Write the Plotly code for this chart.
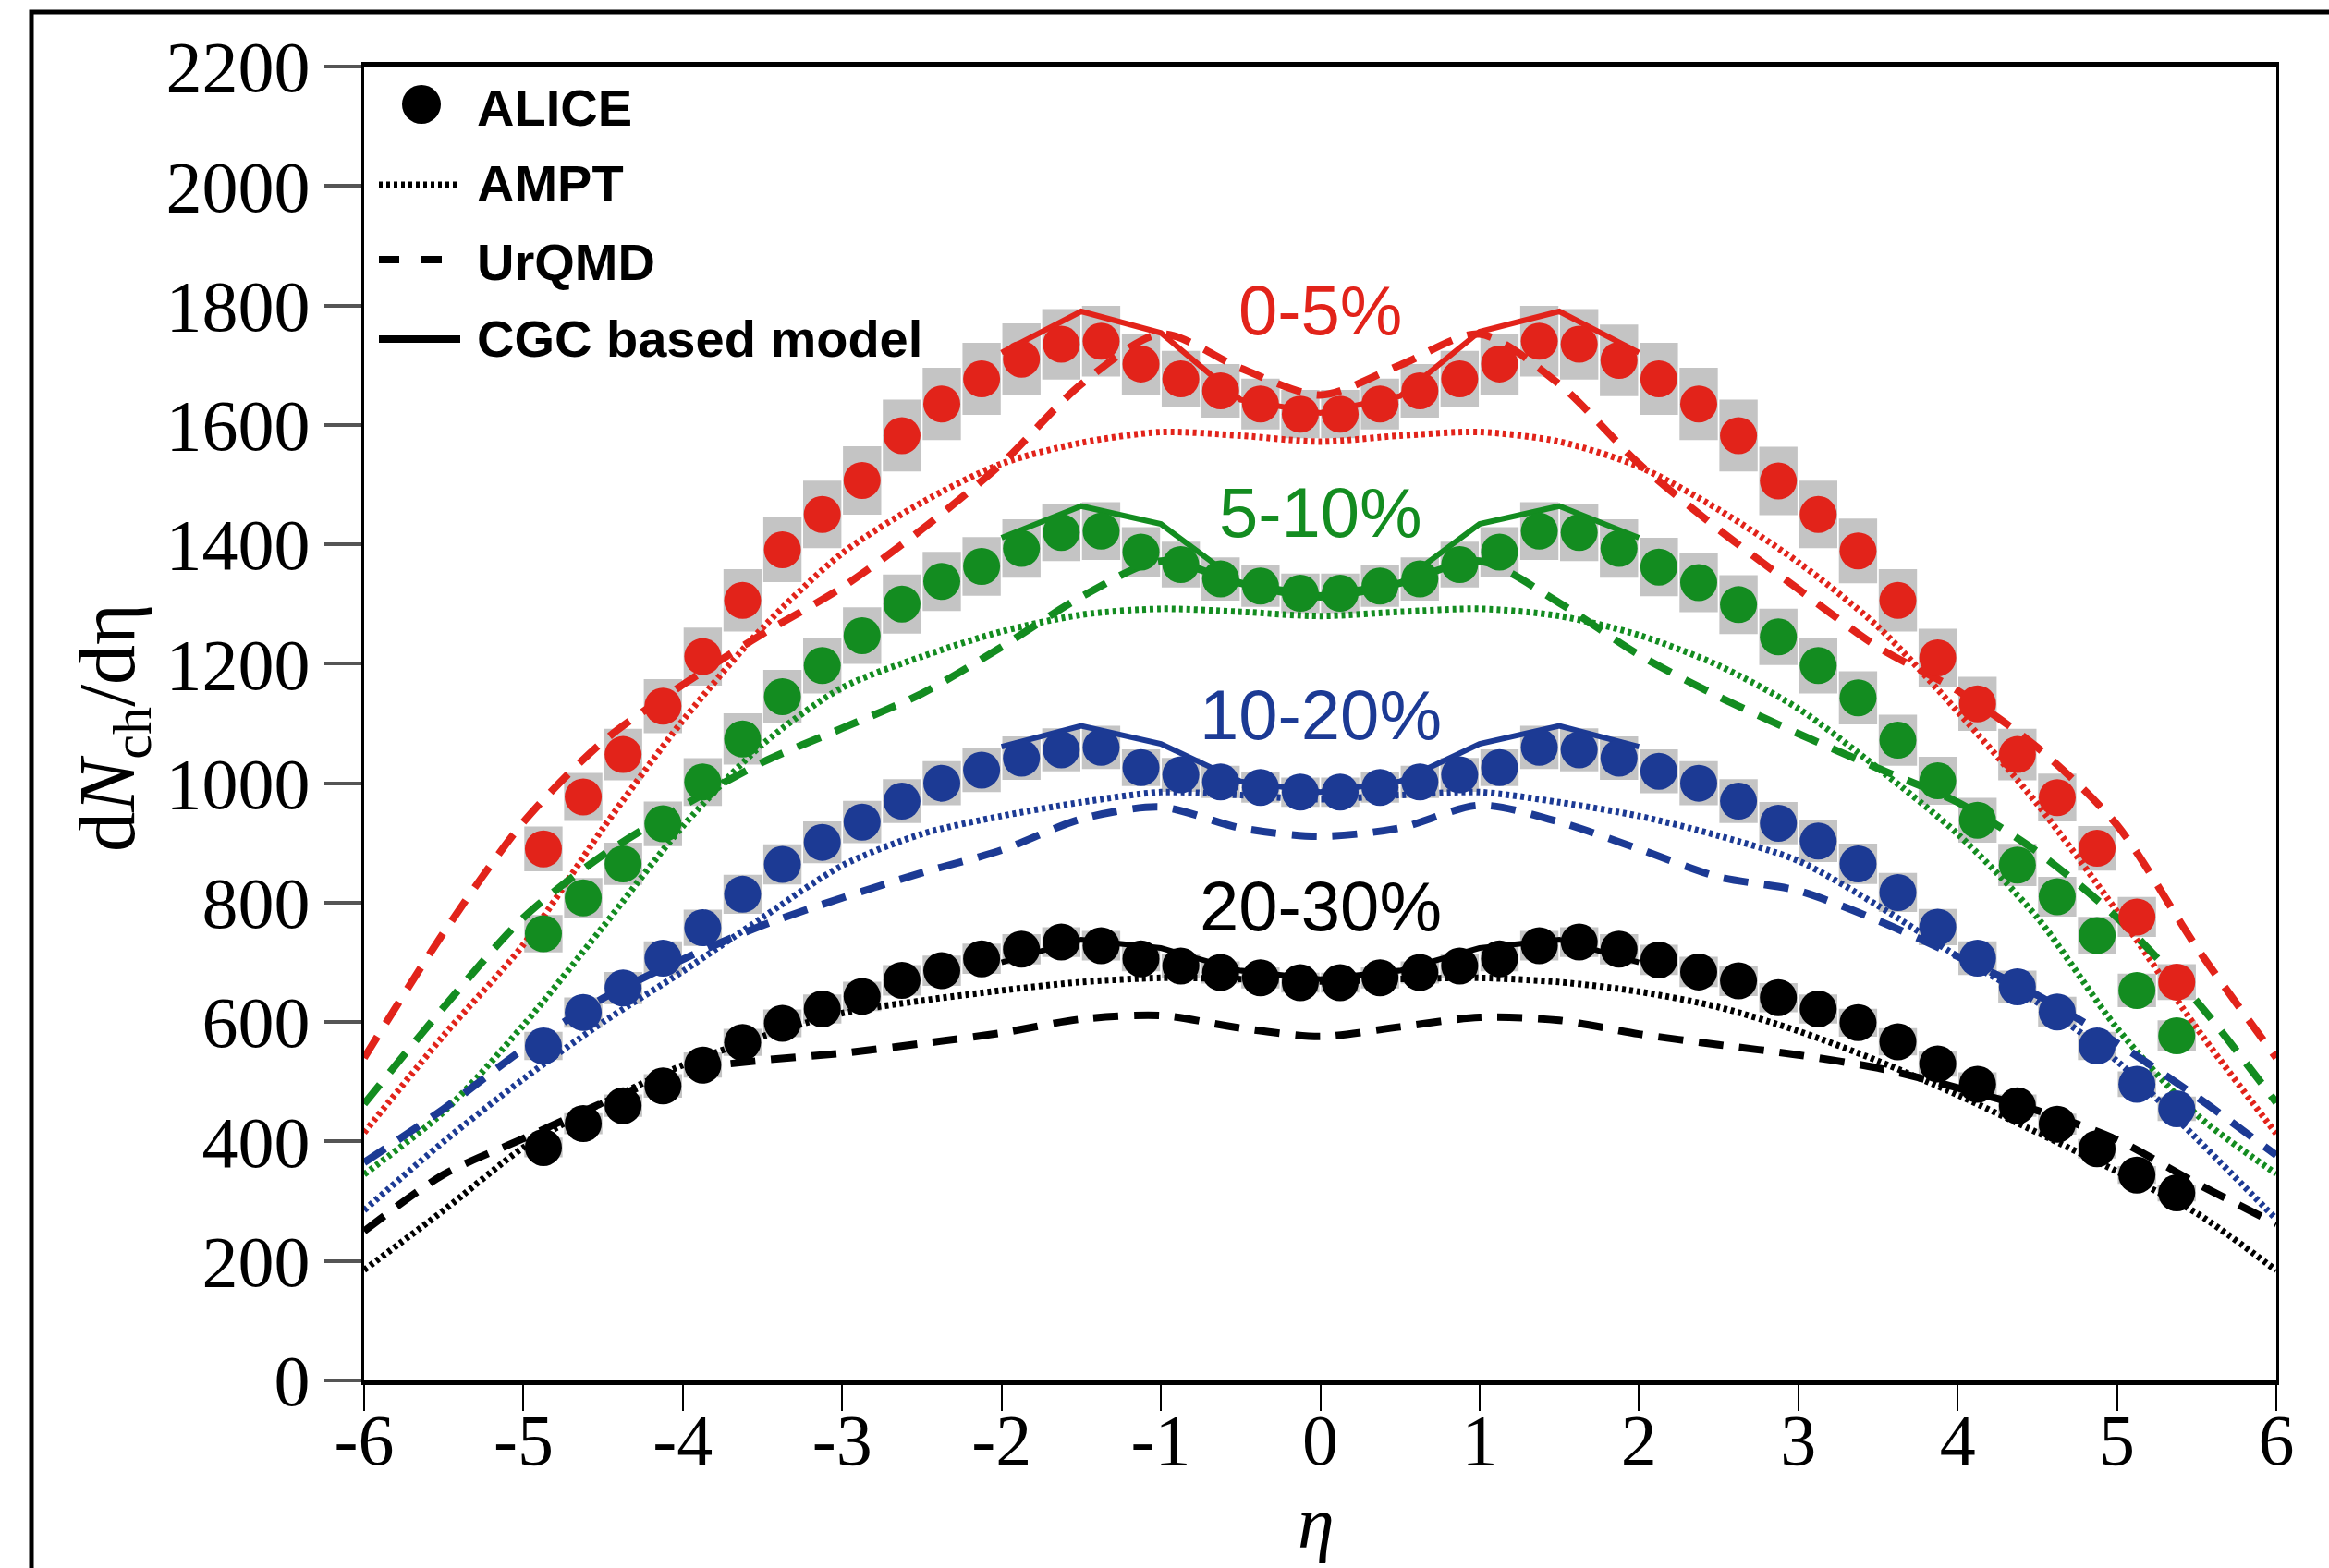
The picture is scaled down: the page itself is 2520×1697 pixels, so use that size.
import plotly.graph_objects as go

# ---------------- data ----------------
eta_alice = [-4.875, -4.625, -4.375, -4.125, -3.875, -3.625, -3.375, -3.125, -2.875, -2.625,
             -2.375, -2.125, -1.875, -1.625, -1.375, -1.125, -0.875, -0.625, -0.375, -0.125,
             0.125, 0.375, 0.625, 0.875, 1.125, 1.375, 1.625, 1.875, 2.125, 2.375,
             2.625, 2.875, 3.125, 3.375, 3.625, 3.875, 4.125, 4.375, 4.625, 4.875, 5.125, 5.375]

alice_0_5 = [890, 977, 1048, 1129, 1212, 1306, 1391, 1450, 1507, 1582, 1635, 1677, 1710, 1735, 1740, 1702, 1677, 1657, 1635, 1618,
             1618, 1635, 1657, 1677, 1702, 1740, 1735, 1708, 1677, 1635, 1582, 1506, 1450, 1389, 1306, 1210, 1133, 1048, 976, 891, 776, 667]
alice_5_10 = [748, 808, 865, 932, 1002, 1074, 1145, 1197, 1247, 1300, 1338, 1363, 1393, 1420, 1422, 1387, 1366, 1342, 1330, 1318,
              1318, 1330, 1342, 1366, 1387, 1422, 1420, 1393, 1362, 1336, 1299, 1245, 1197, 1143, 1072, 1004, 938, 863, 810, 745, 653, 577]
alice_10_20 = [560, 616, 657, 707, 758, 814, 864, 901, 935, 970, 1000, 1022, 1042, 1056, 1060, 1026, 1014, 1002, 993, 985,
               985, 993, 1002, 1014, 1026, 1060, 1056, 1042, 1020, 1000, 970, 933, 903, 865, 817, 759, 707, 659, 617, 560, 496, 455]
alice_20_30 = [390, 430, 460, 493, 528, 566, 598, 622, 643, 670, 686, 706, 722, 734, 728, 706, 694, 683, 674, 666,
               666, 674, 683, 694, 706, 728, 734, 722, 704, 684, 669, 641, 622, 599, 567, 530, 496, 460, 429, 388, 344, 314]

# relative systematic uncertainty (grey boxes)
sys_rel = [0.042, 0.041, 0.041, 0.040, 0.040, 0.040, 0.039, 0.039, 0.038, 0.038,
           0.037, 0.036, 0.035, 0.034, 0.034, 0.030, 0.028, 0.027, 0.026, 0.025,
           0.025, 0.026, 0.027, 0.028, 0.030, 0.034, 0.034, 0.035, 0.036, 0.037,
           0.038, 0.038, 0.039, 0.039, 0.040, 0.040, 0.040, 0.041, 0.041, 0.042, 0.043, 0.045]

eta_model = [-6, -5.5, -5, -4.5, -4, -3.5, -3, -2.5, -2, -1.5, -1, -0.5, 0,
             0.5, 1, 1.5, 2, 2.5, 3, 3.5, 4, 4.5, 5, 5.5, 6]

ampt_0_5 = [415, 578, 730, 925, 1105, 1260, 1385, 1470, 1535, 1570, 1588, 1582, 1572,
            1582, 1588, 1572, 1530, 1458, 1370, 1262, 1120, 965, 785, 590, 413]
ampt_5_10 = [345, 450, 595, 760, 928, 1065, 1160, 1212, 1254, 1282, 1292, 1287, 1280,
             1287, 1292, 1280, 1248, 1197, 1125, 1025, 915, 775, 590, 445, 346]
ampt_10_20 = [285, 400, 505, 600, 685, 775, 862, 915, 945, 968, 985, 980, 973,
              980, 985, 968, 945, 912, 870, 795, 710, 633, 535, 405, 270]
ampt_20_30 = [185, 285, 390, 465, 528, 576, 615, 636, 653, 667, 674, 672, 668,
              672, 674, 667, 651, 625, 585, 535, 478, 415, 350, 280, 184]

urqmd_0_5 = [540, 750, 935, 1070, 1165, 1250, 1328, 1425, 1535, 1668, 1752, 1695, 1650,
             1700, 1752, 1668, 1535, 1425, 1325, 1228, 1155, 1060, 930, 725, 540]
urqmd_5_10 = [463, 625, 775, 880, 962, 1035, 1092, 1150, 1228, 1312, 1372, 1335, 1312,
              1335, 1372, 1302, 1215, 1145, 1083, 1025, 968, 885, 775, 635, 465]
urqmd_10_20 = [365, 455, 555, 640, 705, 762, 808, 850, 888, 940, 960, 925, 911,
               925, 963, 935, 890, 843, 820, 770, 710, 645, 565, 475, 377]
urqmd_20_30 = [250, 345, 405, 465, 518, 536, 548, 564, 582, 605, 611, 590, 576,
               592, 608, 603, 580, 562, 545, 523, 490, 452, 403, 330, 262]

eta_cgc = [-2, -1.5, -1, -0.5, 0, 0.5, 1, 1.5, 2]
cgc_0_5 = [1721, 1790, 1754, 1642, 1620, 1648, 1756, 1790, 1721]
cgc_5_10 = [1411, 1464, 1434, 1335, 1315, 1335, 1434, 1464, 1411]
cgc_10_20 = [1061, 1096, 1066, 1003, 985, 1003, 1066, 1096, 1061]
cgc_20_30 = [700, 738, 724, 686, 672, 686, 724, 738, 700]

y_ticks = [0, 200, 400, 600, 800, 1000, 1200, 1400, 1600, 1800, 2000, 2200]
x_ticks = [-6, -5, -4, -3, -2, -1, 0, 1, 2, 3, 4, 5, 6]
x_tick_text = ["-6", "-5", "-4", "-3", "-2", "-1", "0", "1", "2", "3", "4", "5", "6"]

centralities = ["0-5%", "5-10%", "10-20%", "20-30%"]
label_pos = [1793, 1454, 1114, 795]

# ---------------- styling ----------------
RED = "#E2231A"
GREEN = "#138C20"
BLUE = "#1C3A94"
BLACK = "#000000"
GREY = "#C4C4C4"
colors = [RED, GREEN, BLUE, BLACK]

W, H = 2520, 1697
L, R, T, B = 394, 57, 72, 203
PW, PH = W - L - R, H - T - B


def px(x):
    return (x - L) / PW


def py(y):
    return (H - B - y) / PH


alice = [alice_0_5, alice_5_10, alice_10_20, alice_20_30]
ampt = [ampt_0_5, ampt_5_10, ampt_10_20, ampt_20_30]
urqmd = [urqmd_0_5, urqmd_5_10, urqmd_10_20, urqmd_20_30]
cgc = [cgc_0_5, cgc_5_10, cgc_10_20, cgc_20_30]

fig = go.Figure()

# grey systematic boxes
for vals in alice:
    err = [v * r for v, r in zip(vals, sys_rel)]
    fig.add_trace(go.Bar(
        x=eta_alice, y=[2 * e for e in err], base=[v - e for v, e in zip(vals, err)],
        width=0.24, marker=dict(color=GREY, line=dict(width=0)),
        showlegend=False, hoverinfo="skip"))

# model curves
for c, a, u, g in zip(colors, ampt, urqmd, cgc):
    fig.add_trace(go.Scatter(x=eta_model, y=a, mode="lines",
                             line=dict(color=c, width=7, dash="4px,4px", shape="spline", smoothing=0.8),
                             showlegend=False, hoverinfo="skip"))
    fig.add_trace(go.Scatter(x=eta_model, y=u, mode="lines",
                             line=dict(color=c, width=8, dash="27px,17px", shape="spline", smoothing=0.8),
                             showlegend=False, hoverinfo="skip"))
    fig.add_trace(go.Scatter(x=eta_cgc, y=g, mode="lines",
                             line=dict(color=c, width=6),
                             showlegend=False, hoverinfo="skip"))

# ALICE points
for c, vals in zip(colors, alice):
    fig.add_trace(go.Scatter(x=eta_alice, y=vals, mode="markers",
                             marker=dict(color=c, size=40, line=dict(width=0)),
                             showlegend=False, hoverinfo="skip"))

annotations = []
# centrality labels
for txt, yv, c in zip(centralities, label_pos, colors):
    annotations.append(dict(x=0, y=yv, xref="x", yref="y", text=txt, showarrow=False,
                            font=dict(family="Liberation Sans, Arial", size=76, color=c),
                            xanchor="center", yanchor="middle"))

# legend text
leg_font = dict(family="Liberation Sans, Arial", size=56, color="black")
for txt, yy in [("<b>ALICE</b>", 116), ("<b>AMPT</b>", 199), ("<b>UrQMD</b>", 283),
                ("<b>CGC based model</b>", 367)]:
    annotations.append(dict(x=px(514), y=py(yy), xref="paper", yref="paper", text=txt,
                            showarrow=False, font=leg_font, xanchor="left", yanchor="middle"))

# axis titles
annotations.append(dict(x=px(122), y=py(788), xref="paper", yref="paper",
                        text="d<i>N</i><sub>ch</sub>/dη", textangle=-90, showarrow=False,
                        font=dict(family="Liberation Serif, Times New Roman", size=86, color="black"),
                        xanchor="center", yanchor="middle"))
annotations.append(dict(x=px(1424), y=py(1648), xref="paper", yref="paper",
                        text="<i>η</i>", showarrow=False,
                        font=dict(family="Liberation Serif, Times New Roman", size=80, color="black"),
                        xanchor="center", yanchor="middle"))

shapes = []
# outer frame
shapes.append(dict(type="rect", xref="paper", yref="paper",
                   x0=px(34), x1=px(2560), y0=py(1760), y1=py(13),
                   line=dict(color="black", width=5), fillcolor="rgba(0,0,0,0)", layer="above"))
# legend symbols
shapes.append(dict(type="circle", xref="paper", yref="paper",
                   x0=px(435), x1=px(477), y0=py(134), y1=py(92),
                   fillcolor="black", line=dict(width=0)))
shapes.append(dict(type="line", xref="paper", yref="paper", x0=px(410), x1=px(498), y0=py(200), y1=py(200),
                   line=dict(color="black", width=7, dash="4px,4px")))
shapes.append(dict(type="line", xref="paper", yref="paper", x0=px(410), x1=px(478), y0=py(281), y1=py(281),
                   line=dict(color="black", width=8, dash="22px,24px")))
shapes.append(dict(type="line", xref="paper", yref="paper", x0=px(410), x1=px(498), y0=py(367), y1=py(367),
                   line=dict(color="black", width=8)))

tick_font = dict(family="Liberation Serif, Times New Roman", size=78, color="black")

fig.update_layout(
    template="none",
    width=W, height=H,
    margin=dict(l=L, r=R, t=T, b=B, autoexpand=False),
    paper_bgcolor="white", plot_bgcolor="white",
    barmode="overlay",
    showlegend=False,
    annotations=annotations,
    shapes=shapes,
    xaxis=dict(range=[-6, 6], tickvals=x_ticks, ticktext=x_tick_text, ticks="outside",
               ticklen=28, tickwidth=2, tickcolor="black", showline=True, linewidth=5,
               linecolor="black", mirror=True, showgrid=False, zeroline=False,
               tickfont=tick_font, automargin=False, ticklabelstandoff=-36),
    yaxis=dict(range=[0, 2200], tickvals=y_ticks, ticks="outside", ticklen=40, tickwidth=4,
               tickcolor="#555555", showline=True, linewidth=3, linecolor="black", mirror=True,
               showgrid=False, zeroline=False, tickfont=tick_font, automargin=False),
)

fig.write_html("out.html", include_plotlyjs=True, config={"displayModeBar": False})
